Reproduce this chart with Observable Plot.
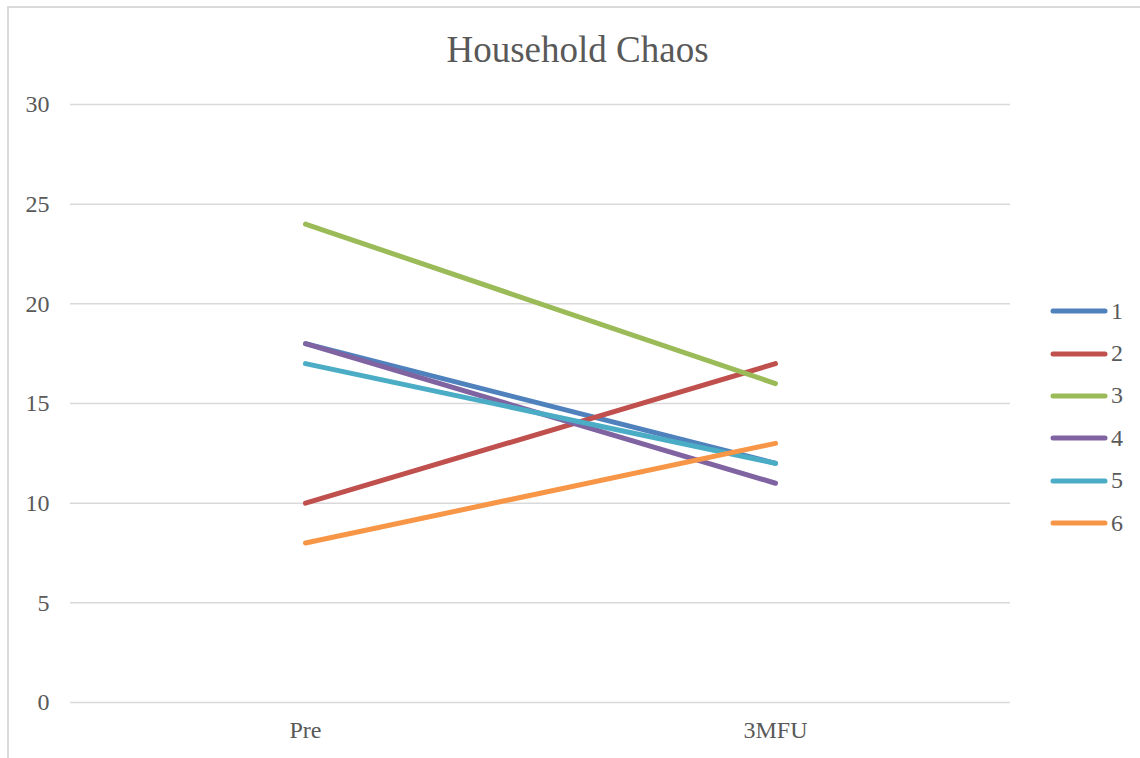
<!DOCTYPE html>
<html>
<head>
<meta charset="utf-8">
<script src="https://cdn.jsdelivr.net/npm/d3@7"></script>
<script src="https://cdn.jsdelivr.net/npm/@observablehq/plot@0.6"></script>
<style>
  html, body { margin: 0; padding: 0; background: #fff; overflow: hidden; }
  #wrap { position: relative; width: 1140px; height: 758px; font-family: "Liberation Serif", "Times New Roman", serif; color: #595959; }
  #frame { position: absolute; left: 7px; top: 6px; width: 1150px; height: 780px; border: 2px solid #d9d9d9; box-sizing: border-box; pointer-events: none; }
  #title { position: absolute; left: 0; top: 28px; width: 1155px; text-align: center; font-size: 37px; line-height: 44px; color: #595959; }
  #chart { position: absolute; left: 0; top: 0; }
  #legend { position: absolute; left: 1050px; top: 290px; }
  .item { display: flex; align-items: center; height: 42.4px; font-size: 24px; color: #595959; }
  .item svg { margin-right: 3px; }
</style>
</head>
<body>
<div id="wrap">
  <div id="frame"></div>
  <div id="chart"></div>
  <div id="title">Household Chaos</div>
  <div id="legend"></div>
</div>
<script>
const categories = ["Pre", "3MFU"];
const seriesNames = ["1", "2", "3", "4", "5", "6"];
const preValues  = [18, 10, 24, 18, 17, 8];
const mfuValues  = [12, 17, 16, 11, 12, 13];
const colors = ["#4F81BD", "#C0504D", "#9BBB59", "#8064A2", "#4BACC6", "#F79646"];
const yTicks = [0, 5, 10, 15, 20, 25, 30];

const data = [];
seriesNames.forEach((s, i) => {
  data.push({series: s, time: categories[0], value: preValues[i]});
  data.push({series: s, time: categories[1], value: mfuValues[i]});
});

const chart = Plot.plot({
  width: 1140,
  height: 758,
  marginLeft: 70,
  marginRight: 130,
  marginTop: 104,
  marginBottom: 56,
  style: {fontFamily: "'Liberation Serif', 'Times New Roman', serif", fontSize: "24px", color: "#595959", background: "transparent", overflow: "visible"},
  x: {type: "point", domain: categories, padding: 0.5, label: null},
  y: {domain: [0, 30], label: null},
  color: {domain: seriesNames, range: colors},
  marks: [
    Plot.gridY(yTicks, {stroke: "#d9d9d9", strokeOpacity: 1, strokeWidth: 1.5}),
    Plot.axisY(yTicks, {tickSize: 0, tickPadding: 21, fontSize: 24, fill: "#595959", label: null}),
    Plot.axisX({tickSize: 0, tickPadding: 18, fontSize: 24, fill: "#595959", label: null}),
    Plot.line(data, {x: "time", y: "value", z: "series", stroke: "series", strokeWidth: 5, strokeLinecap: "round"})
  ]
});
document.getElementById("chart").appendChild(chart);

const legend = document.getElementById("legend");
seriesNames.forEach((s, i) => {
  const div = document.createElement("div");
  div.className = "item";
  div.innerHTML = `<svg width="58" height="8"><line x1="3" y1="4" x2="55" y2="4" stroke="${colors[i]}" stroke-width="5" stroke-linecap="round"/></svg><span>${s}</span>`;
  legend.appendChild(div);
});
</script>
</body>
</html>
